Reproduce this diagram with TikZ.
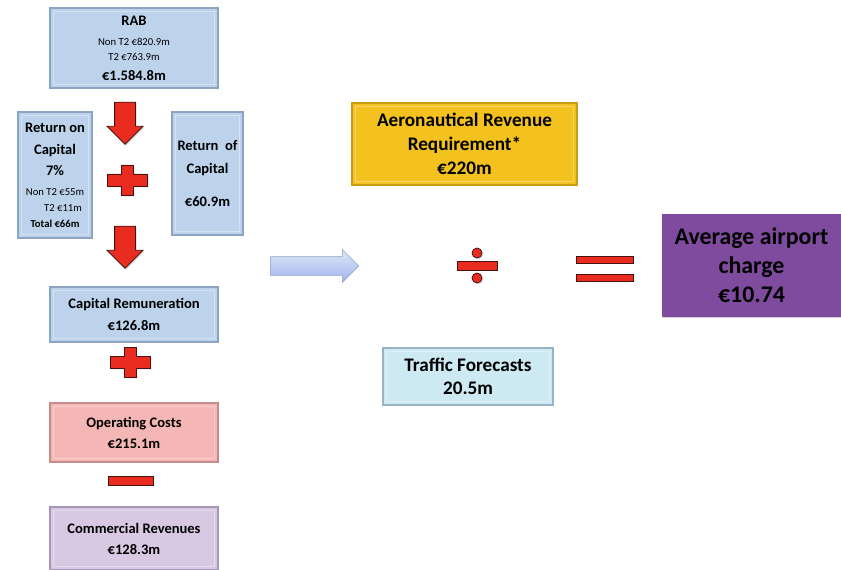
\documentclass[tikz,border=0pt]{standalone}
\usepackage{fontspec}
\setmainfont{Carlito}
\usetikzlibrary{positioning,shapes.arrows,shadows}
\definecolor{capBlue}{RGB}{189,211,236}
\definecolor{capEdge}{RGB}{140,164,196}
\definecolor{costPink}{RGB}{245,183,181}
\definecolor{costEdge}{RGB}{196,140,140}
\definecolor{revLilac}{RGB}{216,200,226}
\definecolor{revEdge}{RGB}{168,150,184}
\definecolor{aeroGold}{RGB}{244,194,30}
\definecolor{aeroEdge}{RGB}{200,156,20}
\definecolor{trafCyan}{RGB}{205,234,243}
\definecolor{trafEdge}{RGB}{150,180,196}
\definecolor{avgPurple}{RGB}{127,75,158}
\definecolor{signRed}{RGB}{234,44,32}
\definecolor{signEdge}{RGB}{70,20,16}
\newcommand{\headtxt}{\fontsize{10.9}{15}\selectfont\bfseries}
\newcommand{\smalltxt}{\fontsize{8}{15}\selectfont\mdseries}

\begin{document}
\begin{tikzpicture}[x=0.75pt,y=-0.75pt,
    box/.style={draw=capEdge,fill=capBlue,line width=0.8pt,inner sep=0pt,align=center,
      drop shadow={shadow xshift=1pt,shadow yshift=-1pt,opacity=0.35},
      path picture={\draw[white,opacity=0.35,line width=1pt]
        ([shift={(2.5pt,-2.5pt)}]path picture bounding box.north west) rectangle
        ([shift={(-2.5pt,2.5pt)}]path picture bounding box.south east);}},
    sign/.style={fill=signRed,draw=signEdge,line width=0.6pt,
      drop shadow={shadow xshift=1pt,shadow yshift=-1pt,opacity=0.3}},
    downarrow/.style={single arrow,rotate=-90,sign,inner xsep=0pt,inner ysep=7.5pt,
      minimum height=31.5pt,single arrow head extend=5.6pt}]
    \useasboundingbox (0,0) rectangle (841,570);

    % left column
    \node[box,font=\smalltxt,minimum width=126pt,minimum height=60pt,text depth=-1.5pt] (rab) at (134,48)
      {\headtxt RAB\\\smalltxt Non T2 €820.9m\\[-3.75pt]\smalltxt T2 €763.9m\\\headtxt €1.584.8m};
    \node[box,font=\smalltxt,minimum width=55.5pt,minimum height=94.5pt,text depth=-2pt] (roc) at (55,175)
      {\headtxt Return on\\[1.5pt]\headtxt Capital\\[0.75pt]\headtxt 7\%\\\smalltxt Non T2 €55m\\[-3pt]\smalltxt\hspace*{12pt}T2 €11m\\[-3pt]\smalltxt\bfseries Total €66m};
    \node[box,font=\smalltxt,minimum width=53.25pt,minimum height=92.25pt] (rofc) at (207.5,173.5)
      {\headtxt Return\ \ of\\[2.25pt]\headtxt Capital\\[9.75pt]\headtxt €60.9m};
    \node[box,font=\fontsize{10.9}{16.5}\selectfont\bfseries,minimum width=126pt,minimum height=41.25pt] (caprem) at (134,314.5)
      {Capital Remuneration\\€126.8m};
    \node[box,draw=costEdge,fill=costPink,font=\fontsize{10.9}{15.75}\selectfont\bfseries,
      minimum width=126pt,minimum height=44.25pt] (opcost) at (134,432.5)
      {Operating Costs\\€215.1m};
    \node[box,draw=revEdge,fill=revLilac,font=\fontsize{10.9}{15.75}\selectfont\bfseries,
      minimum width=126pt,minimum height=47.25pt] (comrev) at (134,538.5)
      {Commercial Revenues\\€128.3m};

    % right side
    \node[box,draw=aeroEdge,fill=aeroGold,font=\fontsize{14.4}{18}\selectfont\bfseries,
      minimum width=168.75pt,minimum height=61.5pt] (aero) at (464.5,144)
      {Aeronautical Revenue\\Requirement*\\€220m};
    \node[box,draw=trafEdge,fill=trafCyan,font=\fontsize{14.4}{17.25}\selectfont\bfseries,
      minimum width=127.5pt,minimum height=42.75pt] (traffic) at (468,376.5)
      {Traffic Forecasts\\20.5m};
    \node[box,draw=none,fill=avgPurple,drop shadow={opacity=0},path picture={},
      font=\fontsize{17.9}{21.75}\selectfont\bfseries,
      minimum width=134.25pt,minimum height=77.25pt] (avg) at (751.5,265.5)
      {Average airport\\charge\\€10.74};

    % operators
    \node[downarrow] (down1) at (125,118) {};
    \node[downarrow] (down2) at (125,242) {};
    \foreach \cx/\cy in {127/180, 130/362} {
      \filldraw[sign] (\cx-20,\cy-6) -- (\cx-6,\cy-6) -- (\cx-6,\cy-15) -- (\cx+6,\cy-15)
        -- (\cx+6,\cy-6) -- (\cx+20,\cy-6) -- (\cx+20,\cy+6) -- (\cx+6,\cy+6)
        -- (\cx+6,\cy+15) -- (\cx-6,\cy+15) -- (\cx-6,\cy+6) -- (\cx-20,\cy+6) -- cycle;
    }
    \filldraw[sign] (108,476) rectangle (153,485);
    \node[single arrow,draw=capEdge,top color=capBlue!50,bottom color=capBlue!80!blue!90,
      inner xsep=0pt,inner ysep=6.75pt,minimum height=66pt,single arrow head extend=5.25pt] (flow) at (310,266) {};
    \filldraw[sign] (457,261) rectangle (497,270);
    \filldraw[sign] (477,253) circle (5);
    \filldraw[sign] (477,278) circle (5);
    \filldraw[sign] (576,256) rectangle (633,263);
    \filldraw[sign] (576,274) rectangle (633,281);
  \end{tikzpicture}
\end{document}
